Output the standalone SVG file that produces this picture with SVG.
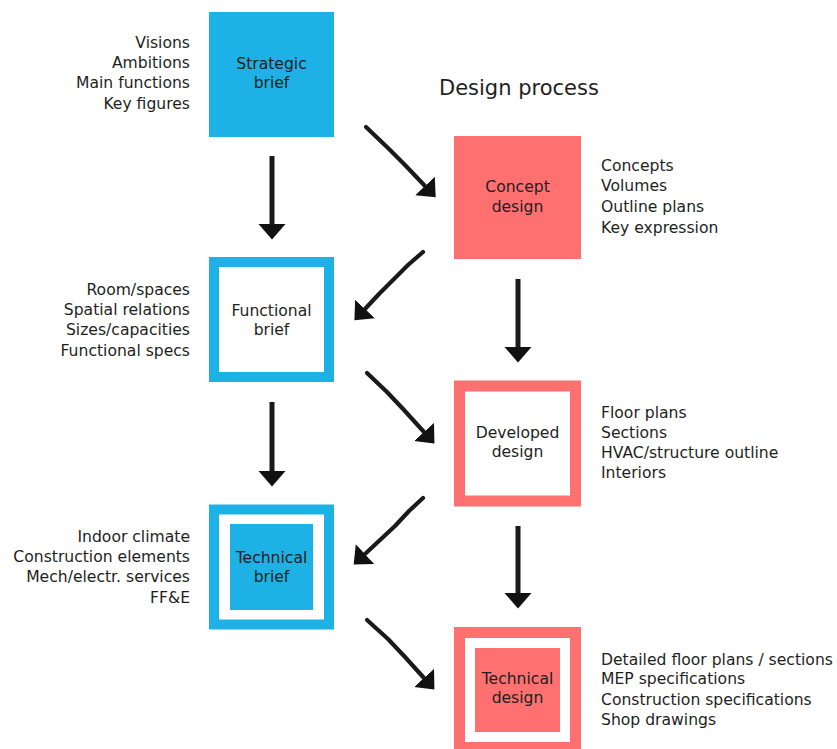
<svg xmlns="http://www.w3.org/2000/svg" width="837" height="749" viewBox="0 0 837 749">
<defs>
<style>
text{font-family:"DejaVu Sans","Liberation Sans",sans-serif;font-size:15.6px;fill:#1e1e22}
.c{text-anchor:middle}
.r{text-anchor:end}
.title{font-size:21px}
.blue{fill:#1db1e5}
.red{fill:#ff7070}
.bframe{fill:#fff;stroke:#1db1e5;stroke-width:10}
.rframe{fill:#fff;stroke:#ff7070;stroke-width:11}
.arr{fill:none;stroke:#1a1a1a;stroke-width:5;marker-end:url(#ah)}
.darr{fill:none;stroke:#1a1a1a;stroke-width:4.2;stroke-linecap:round;stroke-linejoin:round;marker-end:url(#ah)}
</style>
<marker id="ah" markerUnits="userSpaceOnUse" viewBox="0 -14 16 28" refX="0" refY="0" markerWidth="16" markerHeight="28" orient="auto">
<path d="M0,-13.5 L15.5,0 L0,13.5 Z" fill="#111"/>
</marker>
</defs>
<rect width="837" height="749" fill="#fff"/>
<text class="title" x="439" y="95">Design process</text>
<g id="strategic-brief">
<rect class="blue" x="209" y="12" width="125" height="125"/>
<text class="c" x="271.5" y="69">Strategic</text>
<text class="c" x="271.5" y="88">brief</text>
<text class="r" x="190" y="48">Visions</text>
<text class="r" x="190" y="68">Ambitions</text>
<text class="r" x="190" y="88">Main functions</text>
<text class="r" x="190" y="109">Key figures</text>
</g>
<g id="functional-brief">
<rect class="bframe" x="214" y="262" width="115" height="115"/>
<text class="c" x="271.5" y="316">Functional</text>
<text class="c" x="271.5" y="335">brief</text>
<text class="r" x="190" y="295">Room/spaces</text>
<text class="r" x="190" y="315">Spatial relations</text>
<text class="r" x="190" y="335">Sizes/capacities</text>
<text class="r" x="190" y="356">Functional specs</text>
</g>
<g id="technical-brief">
<rect class="bframe" x="214" y="509.5" width="115" height="115"/>
<rect class="blue" x="230" y="524" width="83" height="86"/>
<text class="c" x="271.5" y="563">Technical</text>
<text class="c" x="271.5" y="582">brief</text>
<text class="r" x="190" y="542">Indoor climate</text>
<text class="r" x="190" y="562">Construction elements</text>
<text class="r" x="190" y="582">Mech/electr. services</text>
<text class="r" x="190" y="603">FF&amp;E</text>
</g>
<g id="concept-design">
<rect class="red" x="454" y="136" width="127" height="123"/>
<text class="c" x="517.5" y="192">Concept</text>
<text class="c" x="517.5" y="212">design</text>
<text x="601" y="171">Concepts</text>
<text x="601" y="191">Volumes</text>
<text x="601" y="212">Outline plans</text>
<text x="601" y="233">Key expression</text>
</g>
<g id="developed-design">
<rect class="rframe" x="459.5" y="386" width="116" height="115"/>
<text class="c" x="517.5" y="438">Developed</text>
<text class="c" x="517.5" y="457">design</text>
<text x="601" y="418">Floor plans</text>
<text x="601" y="438">Sections</text>
<text x="601" y="458">HVAC/structure outline</text>
<text x="601" y="478">Interiors</text>
</g>
<g id="technical-design">
<rect class="rframe" x="459.5" y="632.5" width="116" height="115"/>
<rect class="red" x="475" y="648" width="85" height="84"/>
<text class="c" x="517.5" y="684">Technical</text>
<text class="c" x="517.5" y="703">design</text>
<text x="601" y="665">Detailed floor plans / sections</text>
<text x="601" y="684">MEP specifications</text>
<text x="601" y="705">Construction specifications</text>
<text x="601" y="725">Shop drawings</text>
</g>
<g id="connectors">
<path class="arr" d="M272,156 L272,224"/>
<path class="arr" d="M272,402 L272,471"/>
<path class="arr" d="M518,279 L518,347"/>
<path class="arr" d="M518,526 L518,593"/>
<path class="darr" d="M366,127 L388,148 L405,165 L425,186"/>
<path class="darr" d="M423,252 L408,265 L393,280 L379,294 L365,309"/>
<path class="darr" d="M367,373 L387,392 L404,410 L424,432"/>
<path class="darr" d="M423,498 L409,511 L395,526 L380,540 L365,554"/>
<path class="darr" d="M367,620 L388,639 L405,657 L424,678"/>
</g>
</svg>
